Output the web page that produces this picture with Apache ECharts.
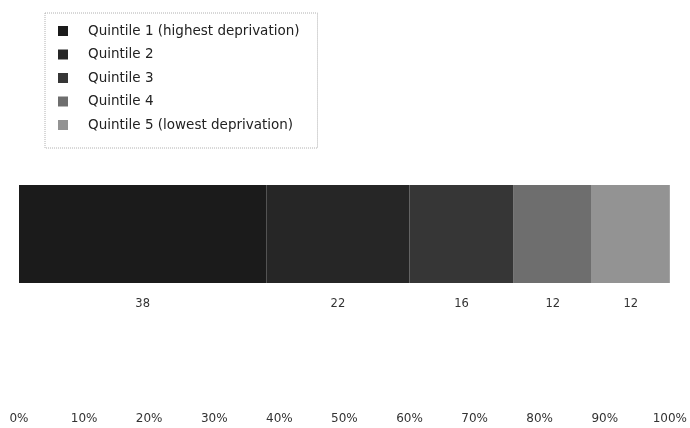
<!DOCTYPE html>
<html>
<head>
<meta charset="utf-8">
<script src="https://cdn.jsdelivr.net/npm/echarts@6/dist/echarts.min.js"></script>
<style>
  html, body { margin: 0; padding: 0; background: #fff; }
</style>
</head>
<body>
<div id="myChart" style="width: 690px; height: 428px;"></div>
<script>
  // quintile names and their shares (%)
  var quintiles = [
    'Quintile 1 (highest deprivation)',
    'Quintile 2',
    'Quintile 3',
    'Quintile 4',
    'Quintile 5 (lowest deprivation)'
  ];
  var shares = [38, 22, 16, 12, 12];
  var colors = ['#1b1b1b', '#262626', '#363636', '#6e6e6e', '#939393'];
  var category = [''];

  var myChart = echarts.init(document.getElementById('myChart'));
  var font = '"DejaVu Sans", sans-serif';

  var series = quintiles.map(function (name, i) {
    return {
      name: name,
      type: 'bar',
      stack: 'all',
      barWidth: 98,
      itemStyle: { color: colors[i] },
      label: {
        show: true,
        position: 'bottom',
        distance: 15,
        color: '#333',
        fontSize: 11.5,
        fontFamily: font
      },
      data: [shares[i]]
    };
  });

  myChart.setOption({
    animation: false,
    textStyle: { fontFamily: font },
    legend: {
      orient: 'vertical',
      left: 45,
      top: 13,
      padding: [11, 18, 16, 13],
      itemWidth: 10,
      itemHeight: 10,
      itemGap: 9.5,
      icon: 'rect',
      borderColor: '#b0b0b0',
      borderWidth: 1,
      borderType: 'dotted',
      textStyle: { color: '#222', fontSize: 13.5, fontFamily: font, padding: [0, 0, 0, 15] },
      data: quintiles
    },
    grid: {
      left: 19,
      right: 20,
      top: 63,
      bottom: 23,
      containLabel: false
    },
    xAxis: {
      type: 'value',
      min: 0,
      max: 100,
      interval: 10,
      axisLine: { show: false },
      axisTick: { show: false },
      splitLine: { show: false },
      axisLabel: {
        color: '#333',
        fontSize: 12,
        margin: 8,
        formatter: '{value}%'
      }
    },
    yAxis: {
      type: 'category',
      data: category,
      axisLine: { show: false },
      axisTick: { show: false },
      axisLabel: { show: false }
    },
    series: series
  });
</script>
</body>
</html>
